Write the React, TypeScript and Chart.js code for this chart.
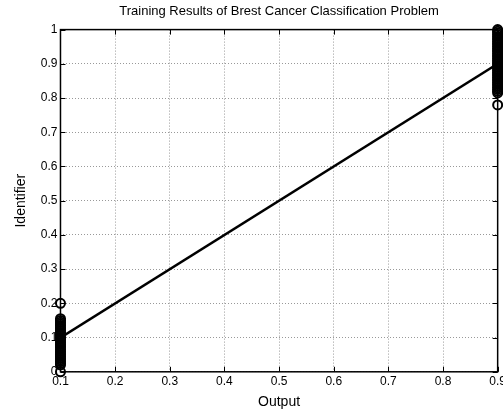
import React, { useEffect, useRef } from "react";
import { Chart, registerables } from "chart.js";

Chart.register(...registerables);

const titleText = "Training Results of Brest Cancer Classification Problem";
const fitLine = [
  { x: 0.1, y: 0.1 },
  { x: 0.9, y: 0.9 },
];
const lowX = 0.1;
const lowTargets = [0, 0.02, 0.025, 0.03, 0.035, 0.04, 0.045, 0.05, 0.055, 0.06, 0.065, 0.07, 0.075, 0.08, 0.085, 0.09, 0.095, 0.1, 0.105, 0.11, 0.115, 0.12, 0.125, 0.13, 0.135, 0.14, 0.145, 0.15, 0.155, 0.2];
const highX = 0.9;
const highTargets = [0.78, 0.815, 0.82, 0.825, 0.83, 0.835, 0.84, 0.845, 0.85, 0.855, 0.86, 0.865, 0.87, 0.875, 0.88, 0.885, 0.89, 0.895, 0.9, 0.905, 0.91, 0.915, 0.92, 0.925, 0.93, 0.935, 0.94, 0.945, 0.95, 0.955, 0.96, 0.965, 0.97, 0.975, 0.98, 0.985, 0.99, 0.995, 1.0];
const xTicks = [0.1, 0.2, 0.3, 0.4, 0.5, 0.6, 0.7, 0.8, 0.9];
const yTicks = [0, 0.1, 0.2, 0.3, 0.4, 0.5, 0.6, 0.7, 0.8, 0.9, 1];

const FONT = "'Liberation Sans', Arial, sans-serif";

const boxPlugin = {
  id: "boxTicks",
  afterDatasetsDraw(chart: any) {
    const { ctx, chartArea: a, scales } = chart;
    ctx.save();
    ctx.strokeStyle = "#000";
    ctx.lineWidth = 1;
    const L = 5;
    ctx.beginPath();
    xTicks.forEach((v) => {
      const px = Math.round(scales.x.getPixelForValue(v)) + 0.5;
      ctx.moveTo(px, a.bottom);
      ctx.lineTo(px, a.bottom - L);
      ctx.moveTo(px, a.top);
      ctx.lineTo(px, a.top + L);
    });
    yTicks.forEach((v) => {
      const py = Math.round(scales.y.getPixelForValue(v)) + 0.5;
      ctx.moveTo(a.left, py);
      ctx.lineTo(a.left + L, py);
      ctx.moveTo(a.right, py);
      ctx.lineTo(a.right - L, py);
    });
    ctx.stroke();
    ctx.lineWidth = 1.5;
    ctx.strokeRect(a.left, a.top, a.right - a.left, a.bottom - a.top);
    ctx.restore();
  },
  afterDraw(chart: any) {
    const { ctx, chartArea: a } = chart;
    const tb = chart.titleBlock;
    ctx.save();
    ctx.fillStyle = "#000";
    ctx.font = "13px " + FONT;
    ctx.textAlign = "center";
    ctx.textBaseline = "middle";
    const cy = tb ? tb.top + 4 + 13 * 1.2 / 2 : 12;
    ctx.fillText(titleText, (a.left + a.right) / 2, cy);
    ctx.restore();
  },
};

export default function App() {
  const ref = useRef<HTMLCanvasElement>(null);
  useEffect(() => {
    document.body.style.margin = "0";
    document.body.style.overflow = "hidden";
    const font = FONT;
    const pointDs = (x: number, ys: number[]) =>
      ({
        data: ys.map((y) => ({ x, y })),
        pointStyle: "circle",
        pointRadius: 4.5,
        borderColor: "#000",
        borderWidth: 2,
        backgroundColor: "rgba(0,0,0,0)",
        clip: false,
      } as any);
    const chart = new Chart(ref.current!, {
      type: "scatter",
      data: {
        datasets: [
          {
            type: "line",
            data: fitLine,
            borderColor: "#000",
            borderWidth: 2.5,
            pointRadius: 0,
            showLine: true,
            fill: false,
          } as any,
          pointDs(lowX, lowTargets),
          pointDs(highX, highTargets),
        ],
      },
      options: {
        responsive: false,
        animation: false,
        layout: { padding: { left: 13, top: 0, right: 0, bottom: 0 } },
        plugins: {
          legend: { display: false },
          tooltip: { enabled: false },
          title: {
            display: true,
            text: titleText,
            color: "rgba(0,0,0,0)",
            font: { family: font, size: 13, weight: "normal" },
            padding: { top: 4, bottom: 10 },
          },
        },
        scales: {
          x: {
            type: "linear",
            min: 0.1,
            max: 0.9,
            afterBuildTicks: (s: any) => {
              s.ticks = xTicks.map((v) => ({ value: v }));
            },
            ticks: {
              color: "#000",
              font: { family: font, size: 12 },
              padding: 3,
              maxRotation: 0,
              callback: (v: any) => String(v),
            },
            grid: { color: "#999", lineWidth: 1, drawTicks: false },
            border: { display: false, dash: [1, 2] },
            title: {
              display: true,
              text: "Output",
              color: "#000",
              font: { family: font, size: 14 },
              padding: { top: 2, bottom: 1 },
            },
          },
          y: {
            type: "linear",
            min: 0,
            max: 1,
            afterBuildTicks: (s: any) => {
              s.ticks = yTicks.map((v) => ({ value: v }));
            },
            ticks: {
              color: "#000",
              font: { family: font, size: 12 },
              padding: 3,
              callback: (v: any) => String(v),
            },
            grid: { color: "#999", lineWidth: 1, drawTicks: false },
            border: { display: false, dash: [1, 2] },
            title: {
              display: true,
              text: "Identifier",
              color: "#000",
              font: { family: font, size: 14 },
              padding: { top: 0, bottom: 8 },
            },
          },
        },
      },
      plugins: [boxPlugin],
    });
    return () => chart.destroy();
  }, []);
  return (
    <div style={{ width: 509, height: 412, background: "#fff" }}>
      <canvas ref={ref} width={509} height={412} />
    </div>
  );
}
